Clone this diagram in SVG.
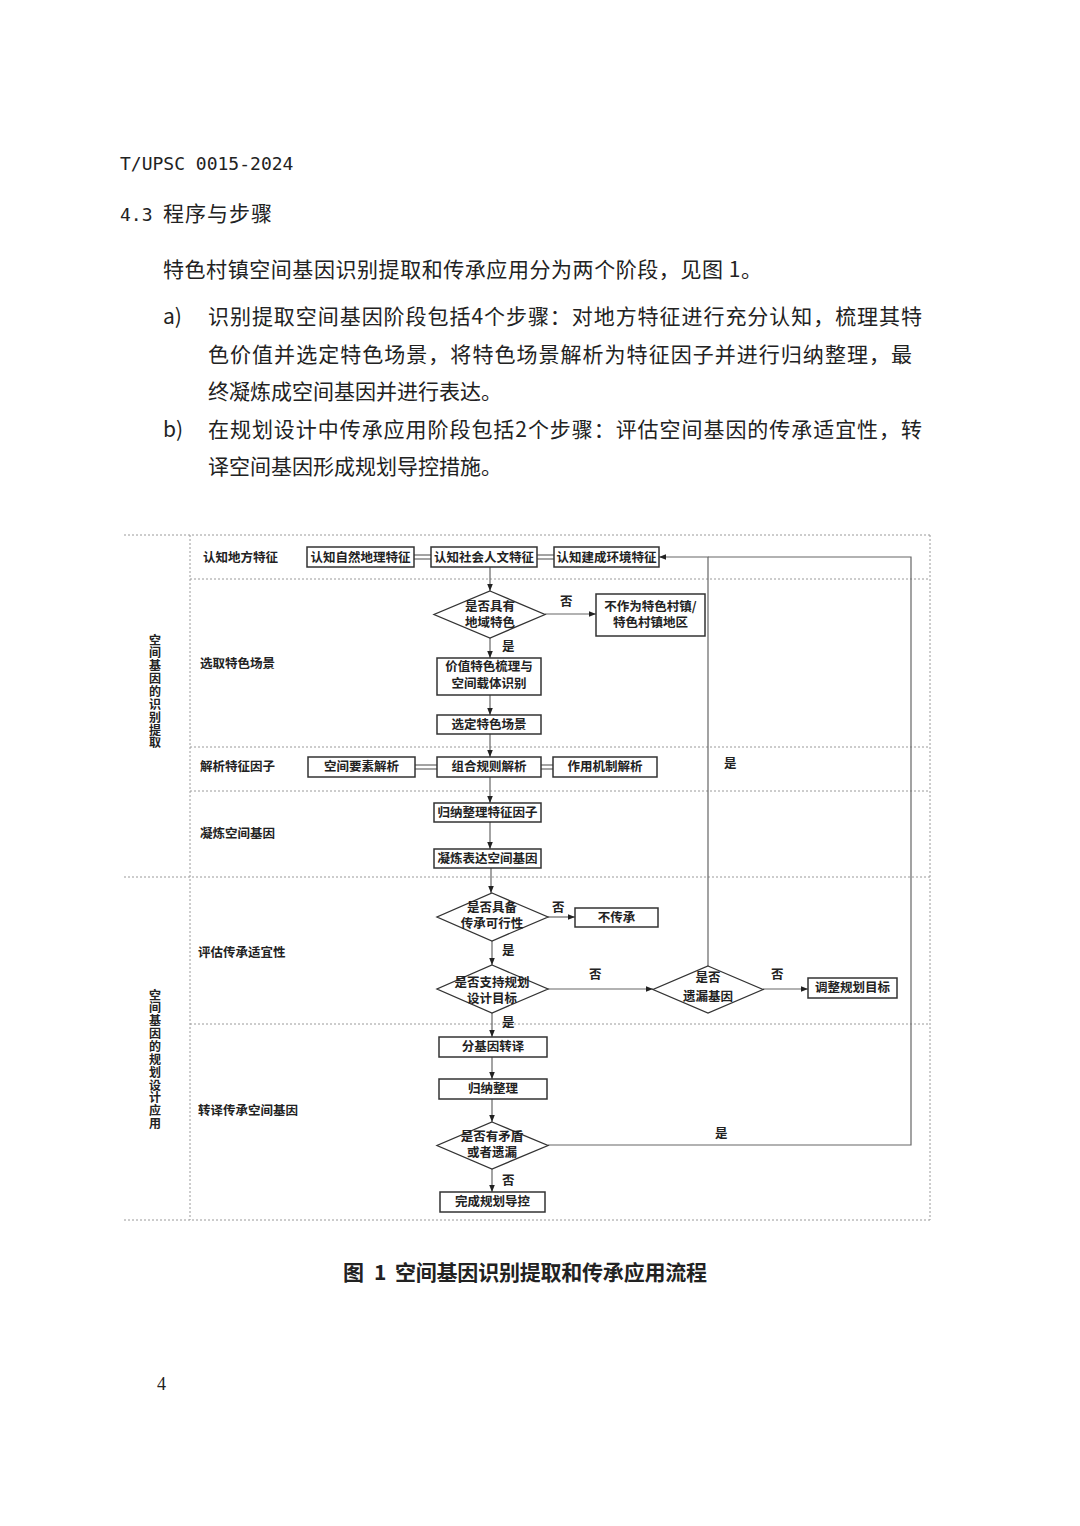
<svg xmlns="http://www.w3.org/2000/svg" width="1080" height="1526" viewBox="0 0 1080 1526">
<defs>
<marker id="ah" viewBox="0 0 10 10" refX="10" refY="5" markerWidth="7" markerHeight="7" markerUnits="userSpaceOnUse" orient="auto">
<path d="M0,1 L10,5 L0,9 z" fill="#222"/>
</marker>
<style>
.body{font-family:"Noto Sans CJK SC","Noto Sans",sans-serif;font-size:21px;fill:#222}
.mono{font-family:"DejaVu Sans Mono","Liberation Mono",monospace;font-size:18px;fill:#222}
.t{font-family:"Noto Sans CJK SC",sans-serif;font-size:12.5px;font-weight:bold;fill:#222}
.tc{font-family:"Noto Sans CJK SC",sans-serif;font-size:12.5px;font-weight:bold;fill:#222;text-anchor:middle}
.vt{font-family:"Noto Sans CJK SC",sans-serif;font-size:12px;font-weight:bold;fill:#222;writing-mode:vertical-rl;letter-spacing:0.85px}
.box{fill:#fff;stroke:#333;stroke-width:1.5}
.dia{fill:#fff;stroke:#333;stroke-width:1.3}
.sep{stroke:#9a9a9a;stroke-width:1;stroke-dasharray:2,2;fill:none}
.ln{stroke:#666;stroke-width:1.2;fill:none}
.arr{stroke:#666;stroke-width:1.2;fill:none;marker-end:url(#ah)}
</style>
</defs>
<rect width="1080" height="1526" fill="#fff"/>

<g id="header">
<text class="mono" x="120" y="170">T/UPSC 0015-2024</text>
<text class="mono" x="120" y="221">4.3</text>
<text class="body" x="163" y="221" font-size="20" textLength="109" lengthAdjust="spacing">程序与步骤</text>
<text class="body" x="163" y="277" textLength="599" lengthAdjust="spacing">特色村镇空间基因识别提取和传承应用分为两个阶段，见图 1。</text>
<text class="body" x="163" y="324">a)</text>
<text class="body" x="208" y="324" textLength="714" lengthAdjust="spacing">识别提取空间基因阶段包括4个步骤：对地方特征进行充分认知，梳理其特</text>
<text class="body" x="208" y="362" textLength="704" lengthAdjust="spacing">色价值并选定特色场景，将特色场景解析为特征因子并进行归纳整理，最</text>
<text class="body" x="208" y="399">终凝炼成空间基因并进行表达。</text>
<text class="body" x="163" y="437">b)</text>
<text class="body" x="208" y="437" textLength="714" lengthAdjust="spacing">在规划设计中传承应用阶段包括2个步骤：评估空间基因的传承适宜性，转</text>
<text class="body" x="208" y="474">译空间基因形成规划导控措施。</text>
</g>

<g id="frame">
<line class="sep" x1="124" y1="535" x2="930" y2="535"/>
<line class="sep" x1="190" y1="579" x2="930" y2="579"/>
<line class="sep" x1="190" y1="747" x2="930" y2="747"/>
<line class="sep" x1="190" y1="791" x2="930" y2="791"/>
<line class="sep" x1="124" y1="877" x2="930" y2="877"/>
<line class="sep" x1="190" y1="1024" x2="930" y2="1024"/>
<line class="sep" x1="124" y1="1220" x2="930" y2="1220"/>
<line class="sep" x1="190" y1="535" x2="190" y2="1220"/>
<line class="sep" x1="930" y1="535" x2="930" y2="1220"/>
</g>

<g id="phase-labels">
<text class="vt" x="155" y="634">空间基因的识别提取</text>
<text class="vt" x="155" y="989">空间基因的规划设计应用</text>
</g>

<g id="row-labels">
<text class="t" x="203" y="562">认知地方特征</text>
<text class="t" x="200" y="668">选取特色场景</text>
<text class="t" x="200" y="771">解析特征因子</text>
<text class="t" x="200" y="838">凝炼空间基因</text>
<text class="t" x="198" y="957">评估传承适宜性</text>
<text class="t" x="198" y="1115">转译传承空间基因</text>
</g>

<g id="connectors">
<line class="ln" x1="414" y1="555" x2="431" y2="555"/>
<line class="ln" x1="414" y1="559" x2="431" y2="559"/>
<line class="ln" x1="537" y1="555" x2="554" y2="555"/>
<line class="ln" x1="537" y1="559" x2="554" y2="559"/>
<line class="arr" x1="490" y1="567" x2="490" y2="591"/>
<line class="arr" x1="545" y1="614" x2="596" y2="614"/>
<line class="arr" x1="490" y1="638" x2="490" y2="658"/>
<line class="arr" x1="490" y1="695" x2="490" y2="715"/>
<line class="arr" x1="490" y1="734" x2="490" y2="757"/>
<line class="ln" x1="415" y1="765" x2="437" y2="765"/>
<line class="ln" x1="415" y1="769" x2="437" y2="769"/>
<line class="ln" x1="541" y1="765" x2="553" y2="765"/>
<line class="ln" x1="541" y1="769" x2="553" y2="769"/>
<line class="arr" x1="490" y1="777" x2="490" y2="803"/>
<line class="arr" x1="490" y1="822" x2="490" y2="849"/>
<line class="arr" x1="491" y1="868" x2="491" y2="893"/>
<line class="arr" x1="548" y1="917" x2="575" y2="917"/>
<line class="arr" x1="492" y1="941" x2="492" y2="965"/>
<line class="arr" x1="548" y1="989" x2="653" y2="989"/>
<line class="arr" x1="763" y1="989" x2="808" y2="989"/>
<polyline class="arr" points="708,966 708,557 659,557"/>
<polyline class="ln" points="548,1145 911,1145 911,557 708,557"/>
<line class="arr" x1="492" y1="1013" x2="492" y2="1037"/>
<line class="arr" x1="492" y1="1057" x2="492" y2="1079"/>
<line class="arr" x1="492" y1="1099" x2="492" y2="1122"/>
<line class="arr" x1="492" y1="1169" x2="492" y2="1192"/>
<text class="t" x="560" y="606">否</text>
<text class="t" x="502" y="651">是</text>
<text class="t" x="724" y="768">是</text>
<text class="t" x="552" y="912">否</text>
<text class="t" x="502" y="955">是</text>
<text class="t" x="589" y="979">否</text>
<text class="t" x="771" y="979">否</text>
<text class="t" x="502" y="1027">是</text>
<text class="t" x="715" y="1138">是</text>
<text class="t" x="502" y="1185">否</text>
</g>

<g id="n-ziran"><rect class="box" x="307" y="547" width="107" height="20"/><text class="tc" x="360.5" y="562">认知自然地理特征</text></g>
<g id="n-shehui"><rect class="box" x="431" y="547" width="106" height="20"/><text class="tc" x="484" y="562">认知社会人文特征</text></g>
<g id="n-jiancheng"><rect class="box" x="554" y="547" width="105" height="20"/><text class="tc" x="606.5" y="562">认知建成环境特征</text></g>

<g id="n-dyts"><polygon class="dia" points="490,591 545,614.5 490,638 434,614.5"/><text class="tc" x="490" y="611">是否具有</text><text class="tc" x="490" y="627">地域特色</text></g>
<g id="n-buzuowei"><rect class="box" x="596" y="594" width="109" height="42"/><text class="tc" x="650.5" y="611">不作为特色村镇/</text><text class="tc" x="650.5" y="627">特色村镇地区</text></g>
<g id="n-jiazhi"><rect class="box" x="437" y="658" width="104" height="37"/><text class="tc" x="489" y="671">价值特色梳理与</text><text class="tc" x="489" y="688">空间载体识别</text></g>
<g id="n-xuanding"><rect class="box" x="437" y="715" width="104" height="19"/><text class="tc" x="489" y="729">选定特色场景</text></g>

<g id="n-kongjian"><rect class="box" x="308" y="757" width="107" height="20"/><text class="tc" x="361.5" y="771">空间要素解析</text></g>
<g id="n-zuhe"><rect class="box" x="437" y="757" width="104" height="20"/><text class="tc" x="489" y="771">组合规则解析</text></g>
<g id="n-zuoyong"><rect class="box" x="553" y="757" width="104" height="20"/><text class="tc" x="605" y="771">作用机制解析</text></g>

<g id="n-guina1"><rect class="box" x="434" y="803" width="107" height="19"/><text class="tc" x="487.5" y="817">归纳整理特征因子</text></g>
<g id="n-ninglian"><rect class="box" x="434" y="849" width="107" height="19"/><text class="tc" x="487.5" y="863">凝炼表达空间基因</text></g>

<g id="n-kexing"><polygon class="dia" points="492,893 548,917 492,941 437,917"/><text class="tc" x="492" y="912">是否具备</text><text class="tc" x="492" y="928">传承可行性</text></g>
<g id="n-buchuancheng"><rect class="box" x="575" y="908" width="83" height="19"/><text class="tc" x="616.5" y="922">不传承</text></g>
<g id="n-zhichi"><polygon class="dia" points="492,965 548,989 492,1013 437,989"/><text class="tc" x="492" y="987">是否支持规划</text><text class="tc" x="492" y="1003">设计目标</text></g>
<g id="n-yilou"><polygon class="dia" points="708,966 763,989.5 708,1013 653,989.5"/><text class="tc" x="708" y="982">是否</text><text class="tc" x="708" y="1001">遗漏基因</text></g>
<g id="n-tiaozheng"><rect class="box" x="808" y="978" width="89" height="20"/><text class="tc" x="852.5" y="992">调整规划目标</text></g>

<g id="n-fenjiyin"><rect class="box" x="439" y="1037" width="108" height="20"/><text class="tc" x="493" y="1051">分基因转译</text></g>
<g id="n-guina2"><rect class="box" x="439" y="1079" width="108" height="20"/><text class="tc" x="493" y="1093">归纳整理</text></g>
<g id="n-maodun"><polygon class="dia" points="492,1122 548,1145.5 492,1169 437,1145.5"/><text class="tc" x="492" y="1141">是否有矛盾</text><text class="tc" x="492" y="1157">或者遗漏</text></g>
<g id="n-wancheng"><rect class="box" x="440" y="1192" width="105" height="20"/><text class="tc" x="492.5" y="1206">完成规划导控</text></g>

<g id="caption">
<text class="body" x="343" y="1280" font-size="20" font-weight="bold">图</text>
<text class="body" x="374" y="1280" font-size="20" font-weight="bold">1</text>
<text class="body" x="395" y="1280" font-size="20" font-weight="bold" textLength="312" lengthAdjust="spacing">空间基因识别提取和传承应用流程</text>
</g>
<text x="157" y="1390" font-family="Liberation Serif,serif" font-size="18" fill="#222">4</text>
</svg>
